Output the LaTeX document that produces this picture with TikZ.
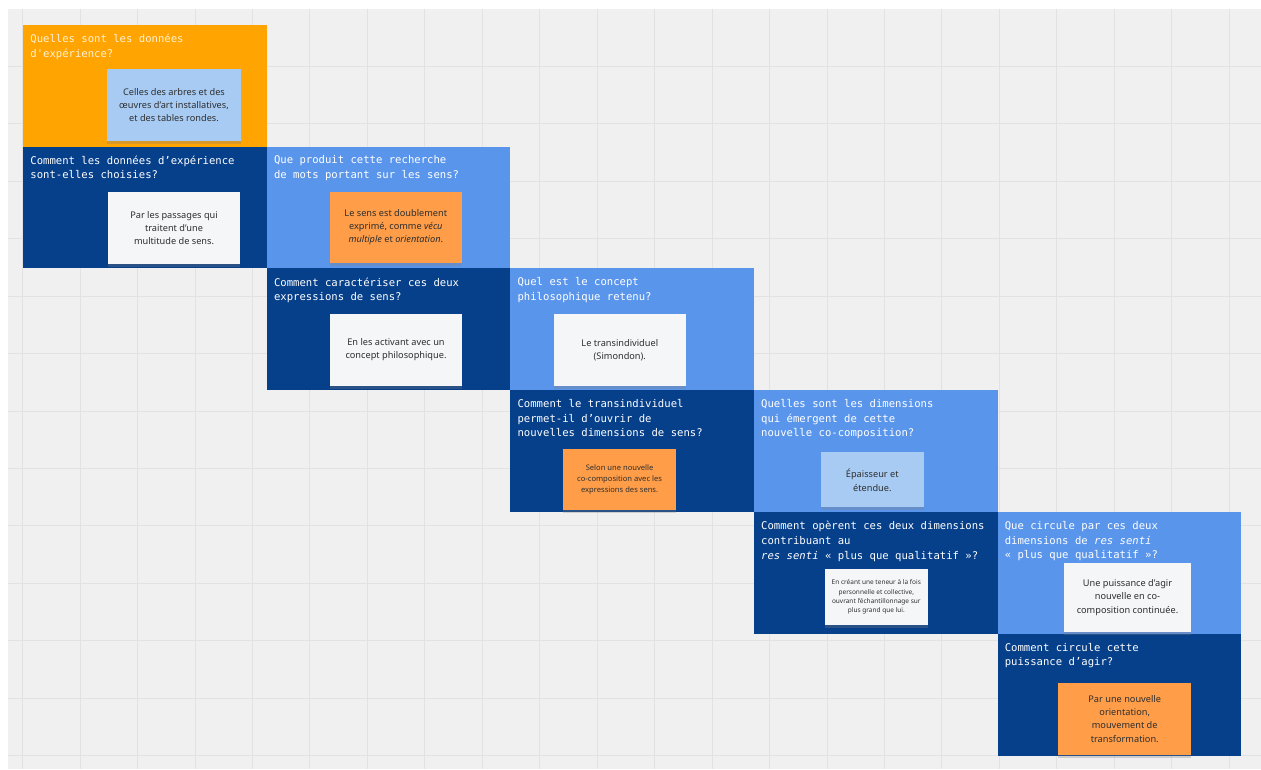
\documentclass[tikz,border=0pt]{standalone}
\usepackage{fontspec}
\setmainfont{Noto Sans}
\setmonofont{DejaVu Sans Mono}
\usetikzlibrary{positioning, shadows}
\definecolor{boardgrey}{HTML}{F0F0F0}
\definecolor{boardline}{HTML}{E2E2E2}
\definecolor{framedark}{HTML}{063F8A}
\definecolor{framelight}{HTML}{5A95EC}
\definecolor{frameorange}{HTML}{FFA400}
\definecolor{stickyblue}{HTML}{A8CBF4}
\definecolor{stickyorange}{HTML}{FF9D48}
\definecolor{stickywhite}{HTML}{F5F6F8}
\definecolor{notetext}{HTML}{2E2E2E}
\definecolor{creamtext}{HTML}{FFF1D6}

\tikzset{
    frame/.style={rectangle, minimum width=243.6pt, minimum height=121.8pt, inner sep=0, outer sep=0, anchor=north west},
    question/.style={anchor=north west, inner sep=0, align=left, text=white, font=\fontsize{10.6}{14.7}\selectfont\ttfamily},
    sticky/.style={rectangle, inner sep=0, align=center, text=notetext, font=\fontsize{9.2}{13.2}\selectfont,
        drop shadow={shadow xshift=0pt, shadow yshift=-3pt, opacity=0.3}},
}

\begin{document}
\begin{tikzpicture}[x=1pt, y=-1pt]
    \useasboundingbox (0, 0) rectangle (1261, 769);
    \fill[white] (0, 0) rectangle (1261, 769);
    \fill[boardgrey] (8, 9) rectangle (1261, 769);
    \foreach \gx in {0,...,21}
        \draw[boardline, line width=1pt] ({22.7 + \gx*57.45}, 9) -- ({22.7 + \gx*57.45}, 769);
    \foreach \gy in {0,...,12}
        \draw[boardline, line width=1pt] (8, {66.3 + \gy*57.45}) -- (1261, {66.3 + \gy*57.45});

    % frames, stepping down to the right
    \node[frame, fill=frameorange] (F1) at (23.2, 24.8) {};
    \node[frame, fill=framedark] (F2) at (F1.south west) {};
    \node[frame, fill=framelight] (F3) at (F2.north east) {};
    \node[frame, fill=framedark] (F4) at (F3.south west) {};
    \node[frame, fill=framelight] (F5) at (F4.north east) {};
    \node[frame, fill=framedark] (F6) at (F5.south west) {};
    \node[frame, fill=framelight] (F7) at (F6.north east) {};
    \node[frame, fill=framedark] (F8) at (F7.south west) {};
    \node[frame, fill=framelight] (F9) at (F8.north east) {};
    \node[frame, fill=framedark] (F10) at (F9.south west) {};

    % questions
    \node[question, text=creamtext] (Q1) at ([shift={(7, 9)}]F1.north west) {Quelles sont les données\\d'expérience?};
    \node[question] (Q2) at ([shift={(7, 9)}]F2.north west) {Comment les données d’expérience\\sont-elles choisies?};
    \node[question] (Q3) at ([shift={(7, 9)}]F3.north west) {Que produit cette recherche\\de mots portant sur les sens?};
    \node[question] (Q4) at ([shift={(7, 9)}]F4.north west) {Comment caractériser ces deux\\expressions de sens?};
    \node[question] (Q5) at ([shift={(7, 9)}]F5.north west) {Quel est le concept\\philosophique retenu?};
    \node[question] (Q6) at ([shift={(7, 9)}]F6.north west) {Comment le transindividuel\\permet-il d’ouvrir de\\nouvelles dimensions de sens?};
    \node[question] (Q7) at ([shift={(7, 9)}]F7.north west) {Quelles sont les dimensions\\qui émergent de cette\\nouvelle co-composition?};
    \node[question] (Q8) at ([shift={(7, 9)}]F8.north west) {Comment opèrent ces deux dimensions\\contribuant au\\\textit{res senti} « plus que qualitatif »?};
    \node[question] (Q9) at ([shift={(7, 9)}]F9.north west) {Que circule par ces deux\\dimensions de \textit{res senti}\\« plus que qualitatif »?};
    \node[question] (Q10) at ([shift={(7, 9)}]F10.north west) {Comment circule cette\\puissance d’agir?};

    % answers
    \node[sticky, fill=stickyblue, minimum width=133.4pt, minimum height=71.4pt] (N1) at (174, 105) {Celles des arbres et des\\œuvres d'art installatives,\\et des tables rondes.};
    \node[sticky, fill=stickywhite, minimum width=132pt, minimum height=72pt] (N2) at (174, 228) {Par les passages qui\\traitent d’une\\multitude de sens.};
    \node[sticky, fill=stickyorange, minimum width=131.7pt, minimum height=71.3pt] (N3) at (395.8, 227.3) {Le sens est doublement\\exprimé, comme \textit{vécu}\\\textit{multiple} et \textit{orientation}.};
    \node[sticky, fill=stickywhite, minimum width=132pt, minimum height=71.7pt] (N4) at (396, 349.8) {En les activant avec un\\concept philosophique.};
    \node[sticky, fill=stickywhite, minimum width=131.7pt, minimum height=71.4pt] (N5) at (619.8, 350) {Le transindividuel\\(Simondon).};
    \node[sticky, fill=stickyorange, minimum width=112.7pt, minimum height=60.7pt, font=\fontsize{7.6}{11.3}\selectfont] (N6) at (619.6, 479.6) {Selon une nouvelle\\co-composition avec les\\expressions des sens.};
    \node[sticky, fill=stickyblue, minimum width=103.3pt, minimum height=55pt, font=\fontsize{9.2}{14}\selectfont] (N7) at (872.3, 479.8) {Épaisseur et\\étendue.};
    \node[sticky, fill=stickywhite, minimum width=102.7pt, minimum height=56pt, font=\fontsize{6.5}{9.3}\selectfont] (N8) at (876.3, 597) {En créant une teneur à la fois\\personnelle et collective,\\ouvrant l'échantillonnage sur\\plus grand que lui.};
    \node[sticky, fill=stickywhite, minimum width=127pt, minimum height=68.4pt] (N9) at (1127.5, 597.5) {Une puissance d’agir\\nouvelle en co-\\composition continuée.};
    \node[sticky, fill=stickyorange, minimum width=132.7pt, minimum height=72.3pt] (N10) at (1124.7, 718.8) {Par une nouvelle\\orientation,\\mouvement de\\transformation.};
\end{tikzpicture}
\end{document}
